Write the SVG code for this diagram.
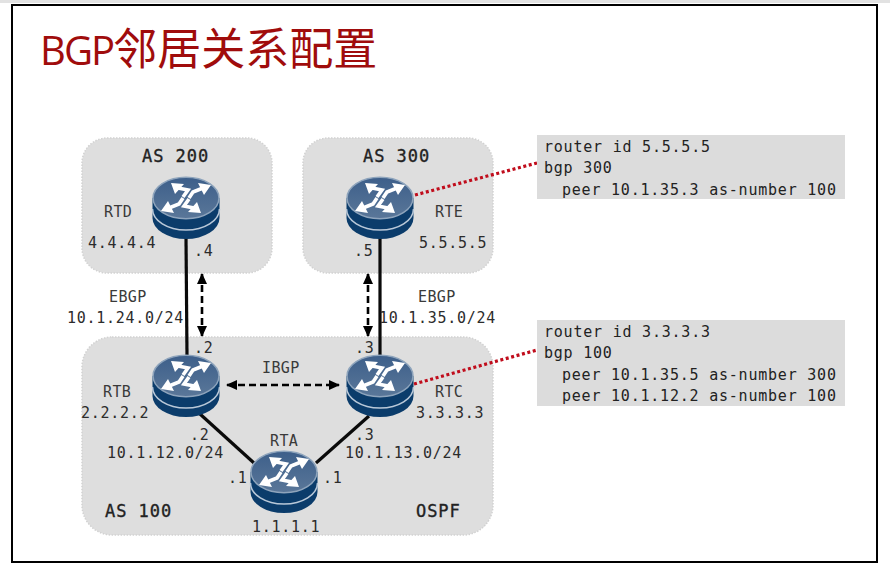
<svg xmlns="http://www.w3.org/2000/svg" width="890" height="571" viewBox="0 0 890 571">
<style>
.as{fill:#dedede;stroke:#d2d2d2;stroke-width:1.5;stroke-dasharray:1.5 1.5}
.box{fill:#dcdcdc}
text{font-family:"DejaVu Sans Mono","Liberation Mono",monospace;font-size:15px;letter-spacing:.72px;fill:#222}
.sm{font-size:15px;letter-spacing:.4px;fill:#3a3a3a}
.ip{font-size:15px;letter-spacing:.72px;fill:#2c2c2c}
.cfg{font-size:15px;letter-spacing:.78px;fill:#222}
.h{font-size:17px;letter-spacing:.95px;fill:#222;stroke:#222;stroke-width:.35}
.link{stroke:#0a0a0a;stroke-width:3.2;fill:none}
.peer{stroke:#000;stroke-width:2.6;stroke-dasharray:7 4;fill:none;marker-start:url(#tip);marker-end:url(#tip)}
.dot{stroke:#c00d1c;stroke-width:3.2;stroke-dasharray:3 2.6;fill:none}
</style>
<defs>
<marker id="tip" markerUnits="userSpaceOnUse" markerWidth="12" markerHeight="12" refX="10" refY="6" orient="auto-start-reverse"><path d="M0 1 L11 6 L0 11 Z" fill="#000"/></marker>
<linearGradient id="top" x1="0" y1="0" x2="0" y2="1"><stop offset="0" stop-color="#3d5f8a"/><stop offset="1" stop-color="#5a7799"/></linearGradient>
<g id="router">
<path d="M-33.500 0V20A33.500 21 0 0 0 33.500 20V0Z" fill="#0b3c6b"/>
<path d="M-33.500 11A33.500 21 0 0 0 33.500 11" fill="none" stroke="#b9c8d8" stroke-width="1.6"/>
<ellipse cx="0" cy="0" rx="33" ry="20.800" fill="url(#top)" stroke="#8ea4bc" stroke-width="1.500"/>
<g fill="none" stroke="#fff" stroke-width="3.600">
<path d="M17 -10L7 -6L3 0"/><path d="M-8 -10L2 -8L-3 -1"/>
<path d="M-17 10L-7 6L-3 0"/><path d="M8 10L-2 8L3 1"/>
</g>
<path d="M25 -13L12 -15L18 -3Z M-15 -15L-2 -14L-11 -4Z M-25 13L-12 15L-18 3Z M15 15L2 14L11 4Z" fill="#fff"/>
</g>
</defs>
<rect width="890" height="571" fill="#fff"/>
<rect x="0" y="0" width="890" height="3" fill="#e2e2e2"/>
<rect x="12" y="5" width="865" height="557" fill="#fff" stroke="#000" stroke-width="2"/>
<text x="40" y="65" style="font-family:'Noto Sans CJK SC','Noto Sans',sans-serif;font-size:44px;letter-spacing:0;fill:#a00c0c"><tspan style="font-family:'Open Sans','Noto Sans',sans-serif;font-size:40px;letter-spacing:-1.900px">BGP</tspan>邻居关系配置</text>

<g id="as200"><rect class="as" x="82" y="138" width="190" height="135" rx="25"/><text class="h" x="142" y="162">AS 200</text></g>
<g id="as300"><rect class="as" x="303" y="138" width="190" height="135" rx="25"/><text class="h" x="363" y="162">AS 300</text></g>
<g id="as100"><rect class="as" x="82" y="337" width="411" height="198" rx="30"/><text class="h" x="105" y="517">AS 100</text><text class="h" x="416" y="517">OSPF</text></g>

<g id="connectors">
<path class="link" d="M186 238L187 356"/>
<path class="link" d="M380 238V356"/>
<path class="link" d="M200 414L254 463"/>
<path class="link" d="M369 416L316 463"/>
<path class="peer" d="M202 274V336"/>
<path class="peer" d="M368 274V336"/>
<path class="peer" d="M227 385H339"/>
<path class="dot" d="M415 195L537 163"/>
<path class="dot" d="M414 384L537 350"/>
</g>

<g id="rtd"><use href="#router" x="186" y="198"/><text class="sm" x="104" y="217">RTD</text><text class="ip" x="88" y="248">4.4.4.4</text><text class="ip" x="194" y="256">.4</text></g>
<g id="rte"><use href="#router" x="380" y="198"/><text class="sm" x="435" y="217">RTE</text><text class="ip" x="419" y="248">5.5.5.5</text><text class="ip" x="354" y="256">.5</text></g>
<g id="rtb"><use href="#router" x="186" y="376"/><text class="sm" x="103" y="397">RTB</text><text class="ip" x="81" y="418">2.2.2.2</text><text class="ip" x="194" y="353">.2</text><text class="ip" x="190" y="440">.2</text></g>
<g id="rtc"><use href="#router" x="380" y="376"/><text class="sm" x="435" y="397">RTC</text><text class="ip" x="416" y="418">3.3.3.3</text><text class="ip" x="355" y="353">.3</text><text class="ip" x="355" y="440">.3</text></g>
<g id="rta"><use href="#router" x="284" y="472"/><text class="sm" x="270" y="446">RTA</text><text class="ip" x="252" y="532">1.1.1.1</text><text class="ip" x="228" y="483">.1</text><text class="ip" x="323" y="483">.1</text></g>

<g id="labels">
<text class="sm" x="109" y="302">EBGP</text><text class="ip" x="67" y="323">10.1.24.0/24</text>
<text class="sm" x="418" y="302">EBGP</text><text class="ip" x="379" y="323">10.1.35.0/24</text>
<text class="sm" x="262" y="373">IBGP</text>
<text class="ip" x="107" y="458">10.1.12.0/24</text>
<text class="ip" x="345" y="458">10.1.13.0/24</text>
</g>

<g id="config-rte"><rect class="box" x="537" y="135" width="308" height="64"/>
<text class="cfg" x="544" y="151.500">router id 5.5.5.5</text><text class="cfg" x="544" y="172.500">bgp 300</text><text class="cfg" x="562" y="194.500">peer 10.1.35.3 as-number 100</text></g>
<g id="config-rtc"><rect class="box" x="537" y="320" width="308" height="86"/>
<text class="cfg" x="544" y="337">router id 3.3.3.3</text><text class="cfg" x="544" y="358">bgp 100</text><text class="cfg" x="562" y="380">peer 10.1.35.5 as-number 300</text><text class="cfg" x="562" y="401">peer 10.1.12.2 as-number 100</text></g>
</svg>
